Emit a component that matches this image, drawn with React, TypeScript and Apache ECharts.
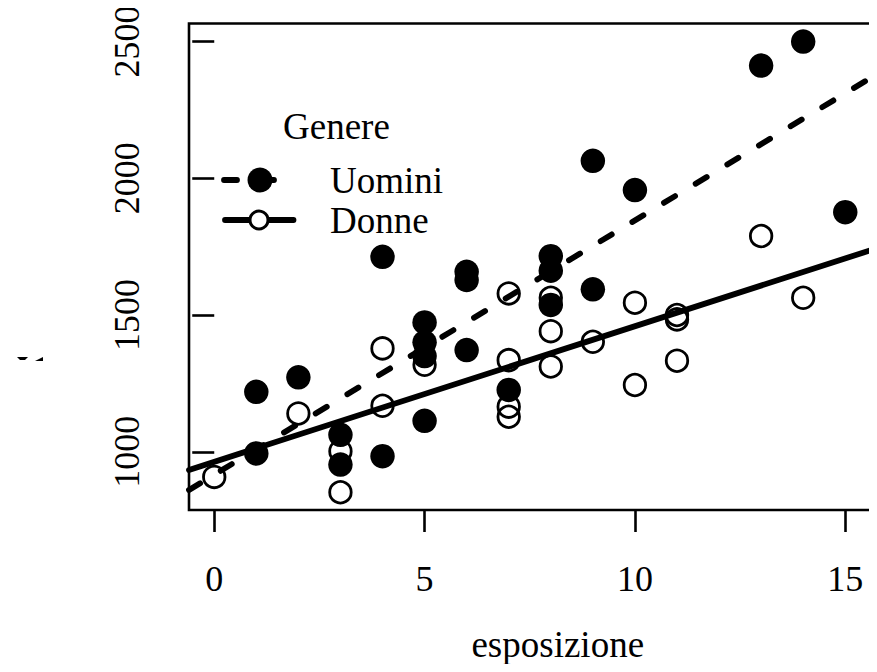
import React, { useEffect, useRef } from "react";
import * as echarts from "echarts";

// Men (filled circles)
const uominiX = [1, 1, 2, 3, 3, 4, 4, 5, 5, 5, 5, 6, 6, 6, 7, 8, 8, 8, 9, 9, 10, 13, 14, 15];
const uominiY = [1219, 994, 1272, 1062, 953, 1713, 984, 1473, 1400, 1350, 1113, 1658, 1628, 1372, 1226, 1715, 1662, 1537, 2064, 1594, 1957, 2412, 2500, 1876];
// Women (open circles)
const donneX = [0, 2, 3, 3, 4, 4, 5, 7, 7, 7, 7, 8, 8, 8, 9, 10, 10, 11, 11, 11, 13, 14];
const donneY = [908, 1140, 1002, 852, 1378, 1168, 1318, 1579, 1335, 1165, 1128, 1563, 1441, 1312, 1402, 1545, 1244, 1500, 1484, 1333, 1789, 1563];

// fitted lines (intercept, slope)
const fitUomini = [916, 93.0];
const fitDonne = [963, 49.6];

const xTicks = [0, 5, 10, 15];
const yTicks = [1000, 1500, 2000, 2500];
const xLimits = [-0.6, 15.6];
const yLimits = [787, 2566];

const legendTitle = "Genere";
const legendNames = ["Uomini", "Donne"];
const xTitle = "esposizione";

const FONT = "'Liberation Serif', 'Times New Roman', serif";

export default function App() {
  const ref = useRef<HTMLDivElement>(null);
  useEffect(() => {
    if (!ref.current) return;
    const chart = echarts.init(ref.current, undefined, { renderer: "svg" });
    const pts = (xs: number[], ys: number[]) => xs.map((x, i) => [x, ys[i]]);
    const fitLine = (f: number[]) => xLimits.map((x) => [x, f[0] + f[1] * x]);
    chart.setOption({
      animation: false,
      backgroundColor: "#fff",
      grid: {
        left: 189,
        right: 6.5,
        top: 23.5,
        bottom: 162,
        show: true,
        borderColor: "#000",
        borderWidth: 2.6,
        backgroundColor: "transparent",
      },
      xAxis: {
        type: "value",
        min: xLimits[0],
        max: xLimits[1],
        axisLine: { show: false },
        splitLine: { show: false },
        axisTick: {
          show: true,
          customValues: xTicks,
          length: 22,
          lineStyle: { color: "#000", width: 2.6 },
        },
        axisLabel: {
          customValues: xTicks,
          formatter: (v: number) => String(v),
          fontSize: 36,
          fontFamily: FONT,
          color: "#000",
          margin: 51,
        },
        name: xTitle,
        nameLocation: "middle",
        nameGap: 116,
        nameTextStyle: { fontSize: 37, fontFamily: FONT, color: "#000", padding: [0, 0, 0, 56] },
      },
      yAxis: {
        type: "value",
        min: yLimits[0],
        max: yLimits[1],
        axisLine: { show: false },
        splitLine: { show: false },
        axisTick: {
          show: true,
          customValues: yTicks,
          length: 22,
          lineStyle: { color: "#000", width: 2.6 },
        },
        axisLabel: {
          customValues: yTicks,
          formatter: (v: number) => String(v),
          rotate: 90,
          fontSize: 36,
          fontFamily: FONT,
          color: "#000",
          margin: 44,
        },
      },
      graphic: [
        { type: "text", x: 283, y: 126.5, style: { text: legendTitle, font: `37px ${FONT}`, fill: "#000", textAlign: "left", textVerticalAlign: "middle", verticalAlign: "middle" } },
        { type: "text", x: 330, y: 180.5, style: { text: legendNames[0], font: `37px ${FONT}`, fill: "#000", textAlign: "left", textVerticalAlign: "middle", verticalAlign: "middle" } },
        { type: "text", x: 330, y: 220.5, style: { text: legendNames[1], font: `37px ${FONT}`, fill: "#000", textAlign: "left", textVerticalAlign: "middle", verticalAlign: "middle" } },
        { type: "line", shape: { x1: 224, y1: 180, x2: 294, y2: 180 }, style: { stroke: "#000", lineWidth: 5.8, lineDash: [13, 24], lineCap: "round" } },
        { type: "circle", shape: { cx: 260, cy: 180, r: 12.5 }, style: { fill: "#000" } },
        { type: "line", shape: { x1: 225, y1: 220, x2: 293.5, y2: 220 }, style: { stroke: "#000", lineWidth: 5.8, lineCap: "round" } },
        { type: "circle", shape: { cx: 259, cy: 220, r: 9 }, style: { fill: "#fff", stroke: "#000", lineWidth: 3 } },
        { type: "polygon", shape: { points: [[17, 357], [28, 357], [25, 360], [20, 360]] }, style: { fill: "#000" } },
        { type: "polygon", shape: { points: [[43, 357], [43, 361], [35, 361]] }, style: { fill: "#000" } },
      ],
      series: [
        {
          type: "scatter",
          name: legendNames[1],
          data: pts(donneX, donneY),
          symbol: "circle",
          symbolSize: 21.5,
          itemStyle: { color: "none", borderColor: "#000", borderWidth: 2.8, opacity: 1 },
          z: 2,
        },
        {
          type: "scatter",
          name: legendNames[0],
          data: pts(uominiX, uominiY),
          symbol: "circle",
          symbolSize: 24.5,
          itemStyle: { color: "#000", opacity: 1 },
          z: 3,
        },
        {
          type: "line",
          data: fitLine(fitUomini),
          showSymbol: false,
          symbol: "none",
          lineStyle: { color: "#000", width: 5.8, type: [13, 24], cap: "round" },
          z: 4,
        },
        {
          type: "line",
          data: fitLine(fitDonne),
          showSymbol: false,
          symbol: "none",
          lineStyle: { color: "#000", width: 5.8, cap: "round" },
          z: 4,
        },
      ],
    });
    return () => chart.dispose();
  }, []);
  return <div ref={ref} style={{ width: 877, height: 672, margin: -8 }} />;
}
